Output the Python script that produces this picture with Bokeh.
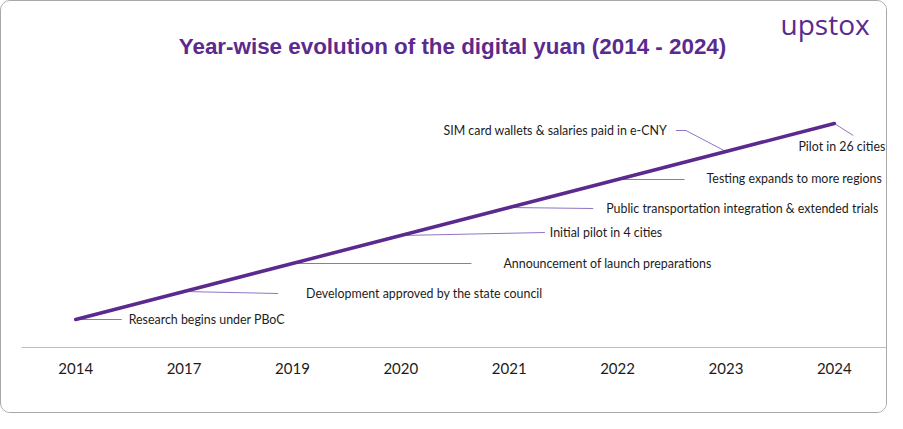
from bokeh.plotting import figure
from bokeh.models import Range1d, FactorRange, ColumnDataSource, LabelSet, Label
from bokeh.core.properties import value
from bokeh.embed import file_html
from bokeh.resources import INLINE

# ---------------- data ----------------
years = ["2014", "2017", "2019", "2020", "2021", "2022", "2023", "2024"]
stages = [1, 2, 3, 4, 5, 6, 7, 8]
events = [
    "Research begins under PBoC",
    "Development approved by the state council",
    "Announcement of launch preparations",
    "Initial pilot in 4 cities",
    "Public transportation integration & extended trials",
    "Testing expands to more regions",
    "SIM card wallets & salaries paid in e-CNY",
    "Pilot in 26 cities",
]
title_text = "Year-wise evolution of the digital yuan (2014 - 2024)"
brand = "upstox"

# ---------------- layout / style ----------------
W, H = 887, 413
AXIS_Y = 346
ML, MR, MT = 20, 0, 0
MB = H - AXIS_Y
FW = W - ML - MR
PX_X = FW / len(years)
PX_Y = 28.0
YMAX = AXIS_Y / PX_Y

PURPLE = "#5b2a8e"
LEADER = "#8f74c4"
TEXT = "#1c1c1c"

label_dx = [53, 122, 211, 149, 97, 89, -59, 51]
label_dy = [0, -2, 0, 3, -1, 1, 21, -23]
label_align = ["left"] * 6 + ["right", "right"]
leader_px = [
    [(0, 0), (46, 0)],
    [(0, 0), (94, -2)],
    [(0, 0), (179, 0)],
    [(0, 0), (144, 3)],
    [(0, 0), (84, -1)],
    [(0, 0), (67, 0)],
    [(0, 0), (-40, 21), (-50, 21)],
    [(0, 0), (19, -12)],
]

p = figure(
    width=W, height=H,
    x_range=FactorRange(*years, range_padding=0),
    y_range=Range1d(0, YMAX),
    output_backend="svg", toolbar_location=None, title=None,
    y_axis_location=None,
    min_border_left=ML, min_border_right=MR, min_border_top=MT, min_border_bottom=MB,
)
p.styles = {"border": "1px solid #a8a8a8", "border-radius": "10px", "overflow": "hidden"}
p.outline_line_color = None
p.xgrid.grid_line_color = None
p.ygrid.grid_line_color = None
p.background_fill_color = "white"
p.border_fill_color = "white"

ax = p.xaxis[0]
ax.axis_line_color = "#bdbdbd"
ax.axis_line_width = 1.2
ax.major_tick_line_color = None
ax.minor_tick_line_color = None
ax.major_label_text_font = "Lato"
ax.major_label_text_font_size = "15px"
ax.major_label_text_color = TEXT
ax.major_label_standoff = 9

# leaders
xs, ys = [], []
for i, pts in enumerate(leader_px):
    cx = i + 0.5
    xs.append([cx + dx / PX_X for dx, dy in pts])
    ys.append([stages[i] + dy / PX_Y for dx, dy in pts])
p.multi_line(xs, ys, line_color=LEADER, line_width=1)

# main line
src = ColumnDataSource(dict(year=years, stage=stages, event=events,
                            dx=label_dx, dy=label_dy, align=label_align))
p.line("year", "stage", source=src, line_color=PURPLE, line_width=3.5, line_cap="round")

labels = LabelSet(x="year", y="stage", text="event", source=src,
                  x_offset="dx", y_offset="dy", text_align="align",
                  text_baseline="middle", text_font=value("Lato"),
                  text_font_size=value("12.4px"), text_color=value(TEXT))
p.add_layout(labels)

# title and brand
img_x = lambda x: (x - ML) / PX_X
img_y = lambda y: (AXIS_Y - y) / PX_Y
p.add_layout(Label(x=img_x(451), y=img_y(45), text=title_text, text_align="center",
                   text_baseline="middle", text_font="Liberation Sans",
                   text_font_style="bold", text_font_size="22.4px", text_color=PURPLE))
p.add_layout(Label(x=img_x(779), y=img_y(22), text=brand, text_align="left",
                   text_baseline="middle", text_font="Open Sans",
                   text_font_size="28px", text_color=PURPLE))

open("out.html", "w").write(file_html(p, INLINE))
